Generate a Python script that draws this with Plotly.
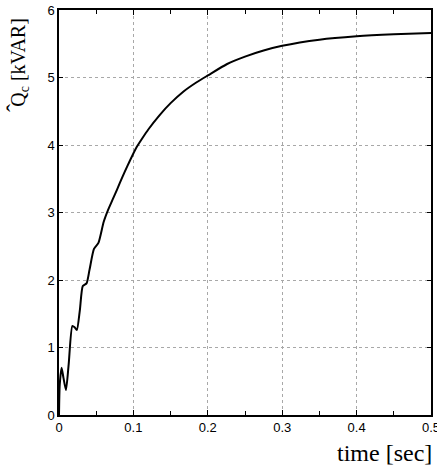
import plotly.graph_objects as go

# Compensator reactive power response
time_s = [0, 0.001, 0.0035, 0.006, 0.0094, 0.013, 0.018, 0.021, 0.024, 0.028,
          0.032, 0.037, 0.041, 0.047, 0.053, 0.06, 0.066, 0.072, 0.078, 0.085,
          0.092, 0.098, 0.105, 0.112, 0.12, 0.135, 0.15, 0.167, 0.185, 0.2,
          0.226, 0.25, 0.275, 0.3, 0.35, 0.4, 0.45, 0.5]
q_kvar = [0, 0.45, 0.70, 0.55, 0.37, 0.75, 1.32, 1.30, 1.26, 1.55,
          1.91, 1.95, 2.15, 2.46, 2.55, 2.86, 3.04, 3.19, 3.34, 3.52,
          3.69, 3.83, 3.98, 4.10, 4.23, 4.44, 4.62, 4.79, 4.93, 5.03,
          5.20, 5.31, 5.40, 5.47, 5.56, 5.61, 5.64, 5.66]

x_ticks = [0, 0.1, 0.2, 0.3, 0.4, 0.5]
x_labels = ["0", "0.1", "0.2", "0.3", "0.4", "0.5"]
y_ticks = [0, 1, 2, 3, 4, 5, 6]

fig = go.Figure()
fig.add_trace(go.Scatter(
    x=time_s, y=q_kvar, mode="lines",
    line=dict(color="black", width=2, shape="spline", smoothing=0.6),
    showlegend=False,
))

tick_font = dict(family="Liberation Sans Narrow, Liberation Sans, sans-serif", size=13, color="black")
serif = "Liberation Serif, Times New Roman, serif"

fig.update_layout(
    width=437, height=470,
    margin=dict(l=59, r=6, t=10, b=55, autoexpand=False),
    paper_bgcolor="white", plot_bgcolor="white",
    xaxis=dict(
        range=[0, 0.5], tickvals=x_ticks, ticktext=x_labels,
        ticks="inside", ticklen=5, tickcolor="black",
        minor=dict(dtick=0.05, ticks="inside", ticklen=4, tickcolor="black", showgrid=False),
        showline=True, linecolor="black", linewidth=1.5, mirror="ticks",
        showgrid=True, gridcolor="#a8a8a8", griddash="dot", gridwidth=1,
        zeroline=False, tickfont=tick_font, ticklabeloverflow="allow",
        automargin=False,
    ),
    yaxis=dict(
        range=[0, 6], tickvals=y_ticks,
        ticks="inside", ticklen=4, tickcolor="black",
        showline=True, linecolor="black", linewidth=1.5, mirror="ticks",
        showgrid=True, gridcolor="#a8a8a8", griddash="dot", gridwidth=1,
        zeroline=False, tickfont=tick_font, automargin=False,
    ),
    annotations=[
        # axis title, rotated, with a separate hat over the Q
        dict(text="Q<sub>c</sub> [kVAR]", textangle=-90,
             xref="paper", yref="paper", x=-0.105, y=0.872,
             xanchor="center", yanchor="middle", showarrow=False,
             font=dict(family=serif, size=20, color="black")),
        dict(text="\u02c6", textangle=-90,
             xref="paper", yref="paper", x=-0.12, y=0.759,
             xanchor="center", yanchor="middle", showarrow=False,
             font=dict(family=serif, size=24, color="black")),
        dict(text="time [sec]",
             xref="paper", yref="paper", x=0.876, y=-0.094,
             xanchor="center", yanchor="middle", showarrow=False,
             font=dict(family=serif, size=24, color="black")),
    ],
)

fig.write_html("out.html")
